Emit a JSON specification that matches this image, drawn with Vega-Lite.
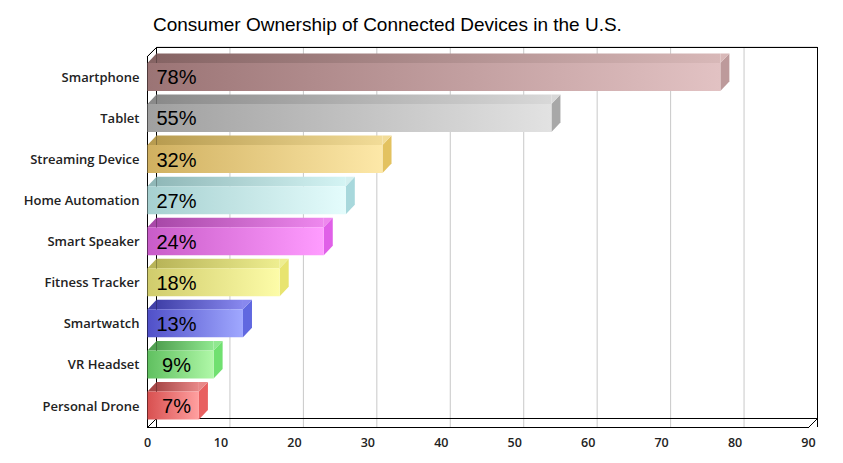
{
  "$schema": "https://vega.github.io/schema/vega-lite/v6.json",
  "width": 661,
  "height": 371,
  "autosize": {"type": "none"},
  "padding": {"left": 147, "top": 56, "right": 35, "bottom": 36},
  "background": "white",
  "view": {"stroke": null},
  "title": {"text": "Consumer Ownership of Connected Devices in the U.S.", "anchor": "start", "frame": "group", "font": "Liberation Sans", "fontSize": 19, "fontWeight": "normal", "color": "#000000", "dx": 6, "offset": 10},
  "datasets": {
    "devices": [
      {"device": "Smartphone", "value": 78, "label": "78%"},
      {"device": "Tablet", "value": 55, "label": "55%"},
      {"device": "Streaming Device", "value": 32, "label": "32%"},
      {"device": "Home Automation", "value": 27, "label": "27%"},
      {"device": "Smart Speaker", "value": 24, "label": "24%"},
      {"device": "Fitness Tracker", "value": 18, "label": "18%"},
      {"device": "Smartwatch", "value": 13, "label": "13%"},
      {"device": "VR Headset", "value": 9, "label": "9%"},
      {"device": "Personal Drone", "value": 7, "label": "7%"}
    ],
    "ticks": [{"t": 10}, {"t": 20}, {"t": 30}, {"t": 40}, {"t": 50}, {"t": 60}, {"t": 70}, {"t": 80}]
  },
  "data": {"name": "devices"},
  "encoding": {
    "y": {"field": "device", "type": "nominal", "sort": null,
      "scale": {"domain": ["Smartphone", "Tablet", "Streaming Device", "Home Automation", "Smart Speaker", "Fitness Tracker", "Smartwatch", "VR Headset", "Personal Drone"], "paddingInner": 0, "paddingOuter": 0.016, "align": 0.28},
      "axis": {"title": null, "ticks": false, "domainColor": "#000000", "domainWidth": 1, "labelFont": "Open Sans", "labelFontSize": 13, "labelFontWeight": 600, "labelColor": "#222222", "labelPadding": 8, "labelOffset": 1}},
    "x": {"field": "value", "type": "quantitative",
      "scale": {"domain": [0, 90], "nice": false},
      "axis": {"title": null, "ticks": false, "grid": false, "values": [0,10,20,30,40,50,60,70,80,90], "domainColor": "#000000", "domainWidth": 1, "labelFont": "Open Sans", "labelFontSize": 12.5, "labelFontWeight": 600, "labelColor": "#222222", "labelPadding": 9, "labelFlush": false}}
  },
  "layer": [
    {"data": {"name": "ticks"}, "mark": {"type": "rule", "color": "#c8c8c8", "strokeWidth": 1, "xOffset": 9.5, "yOffset": -8.5},
      "encoding": {"x": {"field": "t", "type": "quantitative"}, "y": null}},
    {"data": {"name": "ticks"}, "mark": {"type": "point", "shape": "M0,0L9,-9", "size": 4, "filled": false, "stroke": "#e6e6e6", "strokeWidth": 1, "opacity": 1, "yOffset": 371.5, "xOffset": 0.5},
      "encoding": {"x": {"field": "t", "type": "quantitative"}, "y": null}},
    {"mark": {"type": "rule", "color": "#000000", "strokeWidth": 1, "xOffset": 9.5, "yOffset": -8.5},
      "encoding": {"x": {"datum": 0}, "y": null}},
    {"mark": {"type": "rule", "color": "#000000", "strokeWidth": 1, "xOffset": 9.5, "yOffset": -8.5},
      "encoding": {"x": {"datum": 90}, "y": null}},
    {"mark": {"type": "rule", "color": "#000000", "strokeWidth": 1, "xOffset": 9.5, "x2Offset": 9.5, "yOffset": -8.87},
      "encoding": {"x": {"datum": 0}, "x2": {"datum": 90}, "y": {"datum": "Smartphone", "bandPosition": 0}}},
    {"mark": {"type": "rule", "color": "#000000", "strokeWidth": 1, "xOffset": 9.5, "x2Offset": 9.5, "yOffset": -7.55},
      "encoding": {"x": {"datum": 0}, "x2": {"datum": 90}, "y": {"datum": "Personal Drone", "bandPosition": 1}}},
    {"mark": {"type": "point", "shape": "M0,0L9,-9", "size": 4, "filled": false, "stroke": "#000000", "strokeWidth": 1, "opacity": 1, "xOffset": 0.5, "yOffset": 0.13},
      "encoding": {"x": {"datum": 0}, "y": {"datum": "Smartphone", "bandPosition": 0}}},
    {"mark": {"type": "point", "shape": "M0,0L9,-9", "size": 4, "filled": false, "stroke": "#000000", "strokeWidth": 1, "opacity": 1, "xOffset": 0.5, "yOffset": 1.45},
      "encoding": {"x": {"datum": 0}, "y": {"datum": "Personal Drone", "bandPosition": 1}}},
    {"mark": {"type": "point", "shape": "M0,0L9,-9", "size": 4, "filled": false, "stroke": "#000000", "strokeWidth": 1, "opacity": 1, "xOffset": 0.5, "yOffset": 1.45},
      "encoding": {"x": {"datum": 90}, "y": {"datum": "Personal Drone", "bandPosition": 1}}},
    {"mark": {"type": "point", "shape": "M0,-14L9,-23.5L9,4.5L0,14Z", "size": 4, "filled": true, "opacity": 1, "strokeWidth": 0, "xOffset": 0.5},
      "encoding": {"fill": {"field": "device", "type": "nominal", "sort": null, "legend": null,
        "scale": {"range": ["#bd9a9b", "#a8a8a8", "#e3c260", "#a8d8dc", "#e060e8", "#e8e470", "#6068e0", "#70e070", "#e86060"]}}}},
    {"mark": {"type": "point", "shape": "M0,-14L9,-23.5L0,-23.5Z", "size": 4, "filled": true, "opacity": 1, "strokeWidth": 0, "xOffset": 0.5},
      "encoding": {"fill": {"field": "device", "type": "nominal", "sort": null, "legend": null,
        "scale": {"range": ["#d8b8b8", "#d8d8d8", "#f2dc98", "#d4f0f0", "#ee88ee", "#eeee90", "#8888ee", "#90e890", "#e88888"]}}}},
    {"mark": {"type": "point", "shape": "M0,-14L9,-23.5L9,-14Z", "size": 4, "filled": true, "opacity": 1, "strokeWidth": 0, "xOffset": 0.5},
      "encoding": {"x": {"datum": 0}, "fill": {"field": "device", "type": "nominal", "sort": null, "legend": null,
        "scale": {"range": ["#866464", "#8a8a8a", "#b89c50", "#90b8b8", "#a848a8", "#b8b458", "#4040a8", "#50a050", "#a84848"]}}}},
    {"transform": [{"filter": {"field": "device", "equal": "Smartphone"}}], "mark": {"type": "bar", "size": 9.5, "yOffset": -18.75, "xOffset": 0.5, "x2Offset": 9.5, "fill": {"gradient": "linear", "x1": 0, "x2": 1, "y1": 0, "y2": 0, "stops": [{"offset": 0, "color": "#866464"}, {"offset": 1, "color": "#d8b8b8"}]}}, "encoding": {"x2": {"datum": 0}}},
    {"transform": [{"filter": {"field": "device", "equal": "Tablet"}}], "mark": {"type": "bar", "size": 9.5, "yOffset": -18.75, "xOffset": 0.5, "x2Offset": 9.5, "fill": {"gradient": "linear", "x1": 0, "x2": 1, "y1": 0, "y2": 0, "stops": [{"offset": 0, "color": "#8a8a8a"}, {"offset": 1, "color": "#d8d8d8"}]}}, "encoding": {"x2": {"datum": 0}}},
    {"transform": [{"filter": {"field": "device", "equal": "Streaming Device"}}], "mark": {"type": "bar", "size": 9.5, "yOffset": -18.75, "xOffset": 0.5, "x2Offset": 9.5, "fill": {"gradient": "linear", "x1": 0, "x2": 1, "y1": 0, "y2": 0, "stops": [{"offset": 0, "color": "#b89c50"}, {"offset": 1, "color": "#f2dc98"}]}}, "encoding": {"x2": {"datum": 0}}},
    {"transform": [{"filter": {"field": "device", "equal": "Home Automation"}}], "mark": {"type": "bar", "size": 9.5, "yOffset": -18.75, "xOffset": 0.5, "x2Offset": 9.5, "fill": {"gradient": "linear", "x1": 0, "x2": 1, "y1": 0, "y2": 0, "stops": [{"offset": 0, "color": "#90b8b8"}, {"offset": 1, "color": "#d4f4f4"}]}}, "encoding": {"x2": {"datum": 0}}},
    {"transform": [{"filter": {"field": "device", "equal": "Smart Speaker"}}], "mark": {"type": "bar", "size": 9.5, "yOffset": -18.75, "xOffset": 0.5, "x2Offset": 9.5, "fill": {"gradient": "linear", "x1": 0, "x2": 1, "y1": 0, "y2": 0, "stops": [{"offset": 0, "color": "#a848a8"}, {"offset": 1, "color": "#ee88ee"}]}}, "encoding": {"x2": {"datum": 0}}},
    {"transform": [{"filter": {"field": "device", "equal": "Fitness Tracker"}}], "mark": {"type": "bar", "size": 9.5, "yOffset": -18.75, "xOffset": 0.5, "x2Offset": 9.5, "fill": {"gradient": "linear", "x1": 0, "x2": 1, "y1": 0, "y2": 0, "stops": [{"offset": 0, "color": "#b8b458"}, {"offset": 1, "color": "#eeee90"}]}}, "encoding": {"x2": {"datum": 0}}},
    {"transform": [{"filter": {"field": "device", "equal": "Smartwatch"}}], "mark": {"type": "bar", "size": 9.5, "yOffset": -18.75, "xOffset": 0.5, "x2Offset": 9.5, "fill": {"gradient": "linear", "x1": 0, "x2": 1, "y1": 0, "y2": 0, "stops": [{"offset": 0, "color": "#4040a8"}, {"offset": 1, "color": "#8888ee"}]}}, "encoding": {"x2": {"datum": 0}}},
    {"transform": [{"filter": {"field": "device", "equal": "VR Headset"}}], "mark": {"type": "bar", "size": 9.5, "yOffset": -18.75, "xOffset": 0.5, "x2Offset": 9.5, "fill": {"gradient": "linear", "x1": 0, "x2": 1, "y1": 0, "y2": 0, "stops": [{"offset": 0, "color": "#50a050"}, {"offset": 1, "color": "#90e890"}]}}, "encoding": {"x2": {"datum": 0}}},
    {"transform": [{"filter": {"field": "device", "equal": "Personal Drone"}}], "mark": {"type": "bar", "size": 9.5, "yOffset": -18.75, "xOffset": 0.5, "x2Offset": 9.5, "fill": {"gradient": "linear", "x1": 0, "x2": 1, "y1": 0, "y2": 0, "stops": [{"offset": 0, "color": "#a84848"}, {"offset": 1, "color": "#e88888"}]}}, "encoding": {"x2": {"datum": 0}}},
    {"transform": [{"filter": {"field": "device", "equal": "Smartphone"}}], "mark": {"type": "bar", "size": 28, "xOffset": 0.5, "x2Offset": 0.5, "fill": {"gradient": "linear", "x1": 0, "x2": 1, "y1": 0, "y2": 0, "stops": [{"offset": 0, "color": "#9b7475"}, {"offset": 1, "color": "#e2c2c3"}]}}, "encoding": {"x2": {"datum": 0}}},
    {"transform": [{"filter": {"field": "device", "equal": "Tablet"}}], "mark": {"type": "bar", "size": 28, "xOffset": 0.5, "x2Offset": 0.5, "fill": {"gradient": "linear", "x1": 0, "x2": 1, "y1": 0, "y2": 0, "stops": [{"offset": 0, "color": "#a0a0a0"}, {"offset": 1, "color": "#e2e2e2"}]}}, "encoding": {"x2": {"datum": 0}}},
    {"transform": [{"filter": {"field": "device", "equal": "Streaming Device"}}], "mark": {"type": "bar", "size": 28, "xOffset": 0.5, "x2Offset": 0.5, "fill": {"gradient": "linear", "x1": 0, "x2": 1, "y1": 0, "y2": 0, "stops": [{"offset": 0, "color": "#d0b060"}, {"offset": 1, "color": "#fde8a8"}]}}, "encoding": {"x2": {"datum": 0}}},
    {"transform": [{"filter": {"field": "device", "equal": "Home Automation"}}], "mark": {"type": "bar", "size": 28, "xOffset": 0.5, "x2Offset": 0.5, "fill": {"gradient": "linear", "x1": 0, "x2": 1, "y1": 0, "y2": 0, "stops": [{"offset": 0, "color": "#a6d0d0"}, {"offset": 1, "color": "#e4fcfc"}]}}, "encoding": {"x2": {"datum": 0}}},
    {"transform": [{"filter": {"field": "device", "equal": "Smart Speaker"}}], "mark": {"type": "bar", "size": 28, "xOffset": 0.5, "x2Offset": 0.5, "fill": {"gradient": "linear", "x1": 0, "x2": 1, "y1": 0, "y2": 0, "stops": [{"offset": 0, "color": "#c85cc8"}, {"offset": 1, "color": "#ff9cff"}]}}, "encoding": {"x2": {"datum": 0}}},
    {"transform": [{"filter": {"field": "device", "equal": "Fitness Tracker"}}], "mark": {"type": "bar", "size": 28, "xOffset": 0.5, "x2Offset": 0.5, "fill": {"gradient": "linear", "x1": 0, "x2": 1, "y1": 0, "y2": 0, "stops": [{"offset": 0, "color": "#d0cc6c"}, {"offset": 1, "color": "#fdfca8"}]}}, "encoding": {"x2": {"datum": 0}}},
    {"transform": [{"filter": {"field": "device", "equal": "Smartwatch"}}], "mark": {"type": "bar", "size": 28, "xOffset": 0.5, "x2Offset": 0.5, "fill": {"gradient": "linear", "x1": 0, "x2": 1, "y1": 0, "y2": 0, "stops": [{"offset": 0, "color": "#5050c8"}, {"offset": 1, "color": "#a0a8ff"}]}}, "encoding": {"x2": {"datum": 0}}},
    {"transform": [{"filter": {"field": "device", "equal": "VR Headset"}}], "mark": {"type": "bar", "size": 28, "xOffset": 0.5, "x2Offset": 0.5, "fill": {"gradient": "linear", "x1": 0, "x2": 1, "y1": 0, "y2": 0, "stops": [{"offset": 0, "color": "#60c060"}, {"offset": 1, "color": "#b0f8a8"}]}}, "encoding": {"x2": {"datum": 0}}},
    {"transform": [{"filter": {"field": "device", "equal": "Personal Drone"}}], "mark": {"type": "bar", "size": 28, "xOffset": 0.5, "x2Offset": 0.5, "fill": {"gradient": "linear", "x1": 0, "x2": 1, "y1": 0, "y2": 0, "stops": [{"offset": 0, "color": "#d85050"}, {"offset": 1, "color": "#ffa0a0"}]}}, "encoding": {"x2": {"datum": 0}}},
    {"mark": {"type": "text", "align": "center", "baseline": "middle", "font": "Liberation Sans", "fontSize": 20, "color": "#000000", "dx": 29.5, "dy": 1.5},
      "encoding": {"x": {"datum": 0}, "text": {"field": "label"}}}
  ],
  "resolve": {"scale": {"fill": "independent"}}
}
